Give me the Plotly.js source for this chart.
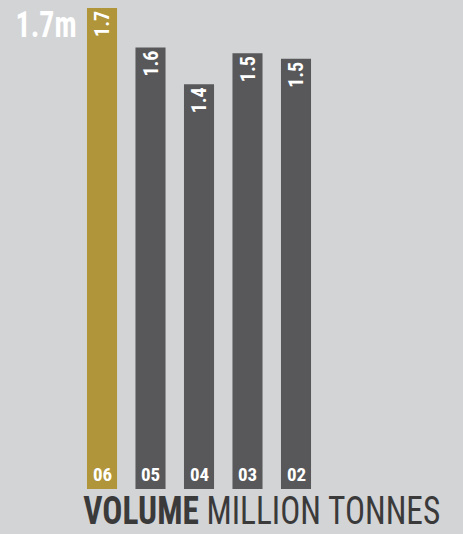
<!DOCTYPE html>
<html><head><meta charset="utf-8">
<script src="https://cdn.plot.ly/plotly-3.0.1.min.js"></script>
<style>html,body{margin:0;padding:0;background:#d3d4d6;}#c{width:463px;height:534px;}</style>
</head><body><div id="c"></div>
<script>
const years = ["06","05","04","03","02"];
const volumes = [1.70, 1.56, 1.43, 1.54, 1.52];
const headline = "1.7m";
const axisTitleBold = "VOLUME";
const axisTitleRest = "MILLION TONNES";

const FONT = "'Liberation Sans Narrow', 'Roboto Condensed', 'DejaVu Sans Condensed', sans-serif";
const GOLD = "#b0953a", GRAY = "#58585a", BG = "#d3d4d6";

const trace = {
  type: "bar",
  x: years,
  y: volumes,
  width: 0.62,
  marker: {color: years.map((_, i) => i === 0 ? GOLD : GRAY), line: {width: 0}},
  texttemplate: "<b>%{y:.1f}</b>",
  textposition: "inside",
  insidetextanchor: "end",
  textangle: -90,
  constraintext: "none",
  textfont: {family: FONT, size: 20, color: "#ffffff"},
  hoverinfo: "none"
};

const annotations = years.map((y, i) => ({
  x: i, y: 0, xref: "x", yref: "y", yanchor: "bottom", yshift: 1,
  text: "<b>" + y + "</b>", showarrow: false,
  font: {family: FONT, size: 19, color: "#ffffff"}
}));
annotations.push({
  xref: "paper", yref: "paper", x: 79/463, y: 1 - 1/489, xanchor: "right", yanchor: "top",
  text: "<b>" + headline + "</b>", showarrow: false,
  font: {family: FONT, size: 37, color: "#ffffff"}
});
annotations.push({
  xref: "paper", yref: "paper", x: 442/463, y: (489-511)/489, xanchor: "right", yanchor: "middle",
  text: "<b>" + axisTitleBold + "</b> " + axisTitleRest, showarrow: false,
  font: {family: FONT, size: 38, color: "#3a3a3b"}
});

const layout = {
  width: 463, height: 534,
  margin: {l: 0, r: 0, t: 0, b: 45, pad: 0},
  paper_bgcolor: BG, plot_bgcolor: BG,
  showlegend: false,
  xaxis: {type: "category", range: [-102/48.5, -102/48.5 + 463/48.5], visible: false, fixedrange: true},
  yaxis: {range: [0, 489/283], visible: false, fixedrange: true},
  annotations: annotations
};

// horizontally condense an annotation's text to a target width, keeping its right edge
function condense(idx, targetW) {
  const g = document.querySelectorAll("#c .annotation")[idx];
  if (!g) return;
  const t = g.querySelector("text.annotation-text");
  if (!t) return;
  const bb = t.getBBox();
  const s = Math.min(1, targetW / bb.width);
  const ax = bb.x + bb.width;
  t.setAttribute("transform", "translate(" + ax + ",0) scale(" + s + ",1) translate(" + (-ax) + ",0)");
}

Plotly.newPlot("c", [trace], layout, {displayModeBar: false, staticPlot: true}).then(() => {
  condense(years.length, 61);
  condense(years.length + 1, 357);
});
</script></body></html>
